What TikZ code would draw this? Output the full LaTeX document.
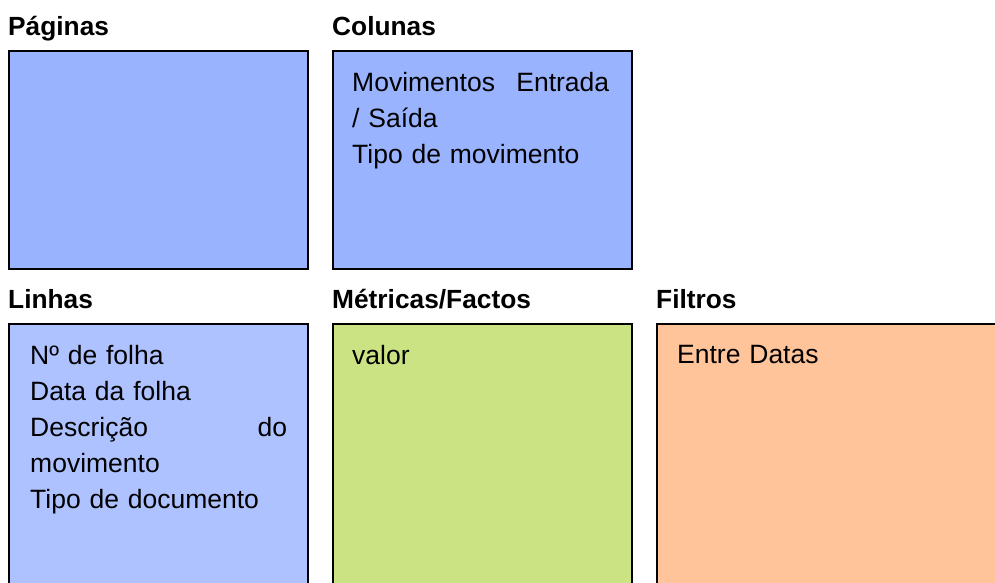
\documentclass[tikz,border=0pt]{standalone}
\usepackage{fontspec}
\setmainfont{Liberation Sans}
\usetikzlibrary{positioning}
\definecolor{paginasBlue}{RGB}{153,179,255}
\definecolor{linhasBlue}{RGB}{174,194,255}
\definecolor{factosGreen}{RGB}{204,227,132}
\definecolor{filtrosOrange}{RGB}{255,196,154}
\tikzset{
  dimBox/.style={draw=black, line width=2pt, anchor=north west, inner sep=0pt},
  dimTitle/.style={anchor=base west, inner sep=0pt, font=\fontsize{26.3}{30}\selectfont\bfseries},
  dimText/.style={anchor=north west, inner sep=0pt, text width=257pt, align=left,
    font=\fontsize{26.5}{36}\selectfont}
}

\begin{document}
\begin{tikzpicture}[x=1pt,y=-1pt]
  % page
  \clip (0,0) rectangle (995,582);
  \def\bw{299}  % box width
  \def\th{218}  % top box height
  \def\lh{290}  % lower box height (runs off the page)

  % help functions
        % titled box
  \def\dimPanel(#1,#2,#3,#4,#5,#6,#7){
    \node[dimTitle] (#1Title) at (#2,{#3-15}) {#7};
    \node[dimBox,fill=#6,minimum width=#4pt,minimum height=#5pt] (#1) at (#2,#3) {};
  }

  % TOP ROW
    \dimPanel(paginas,8,50,\bw,\th,paginasBlue,Páginas)
    \dimPanel(colunas,332,50,\bw,\th,paginasBlue,Colunas)

  % LOWER ROW
    \dimPanel(linhas,8,323,\bw,\lh,linhasBlue,Linhas)
    \dimPanel(factos,332,323,\bw,\lh,factosGreen,Métricas/Factos)
    \dimPanel(filtros,656,323,360,\lh,filtrosOrange,Filtros)

  % CONTENTS
    \node[dimText] (colunasText) at ([shift={(20,22)}]colunas.north west)
      {Movimentos\hfill Entrada\\ / Saída\\ Tipo de movimento};
    \node[dimText] (linhasText) at ([shift={(22,22)}]linhas.north west)
      {Nº de folha\\ Data da folha\\ Descrição\hfill do\\ movimento\\ Tipo de documento};
    \node[dimText] (factosText) at ([shift={(20,22)}]factos.north west) {valor};
    \node[dimText] (filtrosText) at ([shift={(21,22)}]filtros.north west) {Entre Datas};
\end{tikzpicture}
\end{document}
